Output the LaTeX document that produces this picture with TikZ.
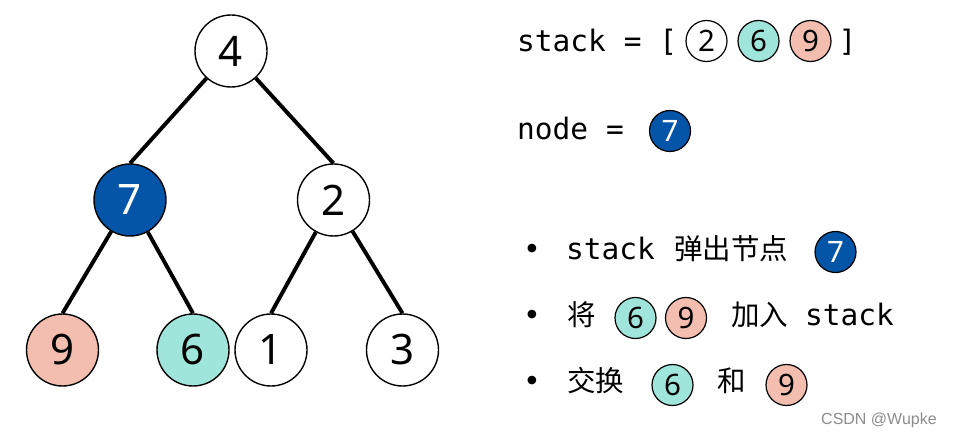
\documentclass[tikz,border=0pt]{standalone}
\usepackage{fontspec}
\newfontfamily\dig{Noto Sans}
\newfontfamily\mono{DejaVu Sans Mono}
\newfontfamily\cjk{Noto Sans CJK SC}
\newfontfamily\wm{Liberation Sans}
\definecolor{nblue}{HTML}{0455A8}
\definecolor{nteal}{HTML}{A0E5DB}
\definecolor{nsalmon}{HTML}{F3BEB0}
\tikzset{
  tnode/.style={circle, draw=black, line width=1.4pt, fill=white, minimum size=72pt, inner sep=0pt, font=\dig\fontsize{42}{42}\selectfont},
  snode/.style={circle, draw=black, line width=1.2pt, fill=white, minimum size=41pt, inner sep=0pt, font=\dig\fontsize{29.5}{29.5}\selectfont},
  isblue/.style={fill=nblue, text=white},
  isteal/.style={fill=nteal},
  issalmon/.style={fill=nsalmon},
  edge/.style={line width=3.9pt, black},
  mtext/.style={anchor=base west, inner sep=0pt, font=\mono\fontsize{29.5}{29.5}\selectfont},
  ctext/.style={anchor=base west, inner sep=0pt, font=\cjk\fontsize{28.5}{28.5}\selectfont},
}
\begin{document}
\begin{tikzpicture}[x=1pt,y=-1pt]
\useasboundingbox (0,0) rectangle (966,438);
% tree
\node[tnode] (n4) at (231,51) {4};
\node[tnode,isblue] (n7) at (130,200) {7};
\node[tnode] (n2) at (333.5,200) {2};
\node[tnode,issalmon] (n9) at (62.5,350) {9};
\node[tnode,isteal] (n6) at (193,350) {6};
\node[tnode] (n1) at (271,350) {1};
\node[tnode] (n3) at (402.5,350) {3};
\draw[edge] (n4) -- (n7.north);
\draw[edge] (n4) -- (n2.north);
\draw[edge] (n7) -- (n9.north);
\draw[edge] (n7) -- (n6.north);
\draw[edge] (n2) -- (n1.north);
\draw[edge] (n2) -- (n3.north);
% stack line
\node[mtext] (stk) at (517,52) {stack = [};
\node[snode] (s2) at (706.5,41) {2};
\node[snode,isteal] (s6) at (758.5,41) {6};
\node[snode,issalmon] (s9) at (810.5,41) {9};
\node[mtext, anchor=base] (rb) at (847.5,52) {]};
% node line
\node[mtext] (nd) at (517,140) {node =};
\node[snode,isblue] (nd7) at (670,131) {7};
% bullets
\node[mtext, anchor=base] (b1) at (532,260) {•};
\node[mtext] (t1a) at (566,260) {stack};
\node[ctext] (t1b) at (674,260) {弹出节点};
\node[snode,isblue] (b17) at (835.5,252) {7};
\node[mtext, anchor=base] (b2) at (532,325) {•};
\node[ctext] (t2a) at (567,325) {将};
\node[snode,isteal] (b26) at (635.5,318) {6};
\node[snode,issalmon] (b29) at (686,318) {9};
\node[ctext] (t2b) at (731,325) {加入};
\node[mtext] (t2c) at (805,325) {stack};
\node[mtext, anchor=base] (b3) at (532,391) {•};
\node[ctext] (t3a) at (567,391) {交换};
\node[snode,isteal] (b36) at (672.5,385) {6};
\node[ctext] (t3b) at (717,391) {和};
\node[snode,issalmon] (b39) at (786.5,385) {9};
% watermark
\node[anchor=base west, inner sep=0pt, text=black!45, font=\wm\fontsize{16}{16}\selectfont] (wm) at (821,424) {CSDN @Wupke};
\end{tikzpicture}
\end{document}
